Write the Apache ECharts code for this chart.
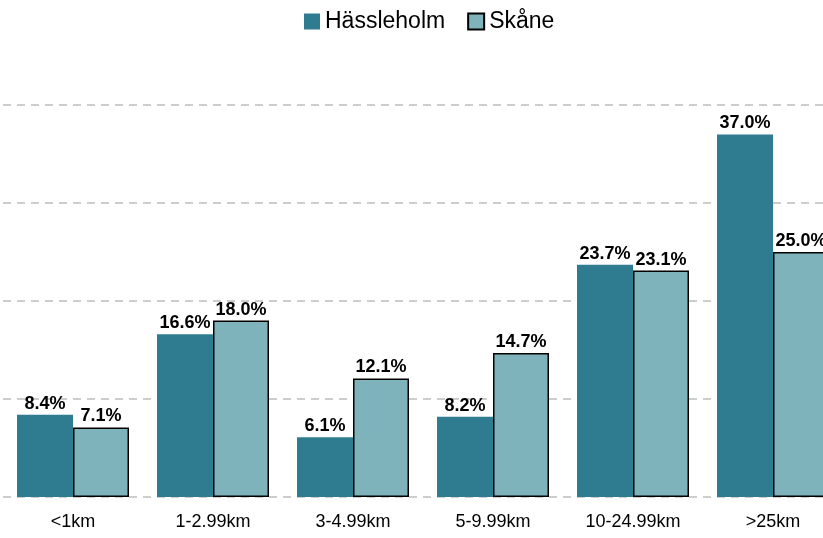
<!DOCTYPE html>
<html>
<head>
<meta charset="utf-8">
<script src="https://cdn.jsdelivr.net/npm/echarts@6/dist/echarts.min.js"></script>
<style>
  html, body { margin: 0; padding: 0; background: #fff; }
  #chart { width: 823px; height: 538px; }
</style>
</head>
<body>
<div id="chart"></div>
<script>
// data
const categories = ['<1km', '1-2.99km', '3-4.99km', '5-9.99km', '10-24.99km', '>25km'];
const hassleholm = [8.4, 16.6, 6.1, 8.2, 23.7, 37.0];
const skane = [7.1, 18.0, 12.1, 14.7, 23.1, 25.0];

const fontFamily = '"Liberation Sans", Arial, sans-serif';

const chart = echarts.init(document.getElementById('chart'));

const labelStyle = {
    show: true,
    position: 'top',
    distance: 2,
    color: '#000',
    fontWeight: 'bold',
    fontSize: 18,
    fontFamily: fontFamily,
    formatter: p => p.value.toFixed(1) + '%'
};

chart.setOption({
    animation: false,
    legend: {
        top: 5,
        left: 299,
        icon: 'rect',
        itemWidth: 16,
        itemHeight: 16,
        itemGap: 22,
        textStyle: { fontSize: 23, fontFamily: fontFamily, color: '#000' },
        data: ['Hässleholm', 'Skåne']
    },
    // plot area runs past the right edge, so the last bar is clipped
    grid: {
        left: 3, width: 840, top: 105, bottom: 41,
        containLabel: false,
        outerBoundsMode: 'none'
    },
    xAxis: {
        type: 'category',
        data: categories,
        axisLine: { show: false },
        axisTick: { show: false },
        axisLabel: { color: '#000', fontSize: 18, fontFamily: fontFamily, margin: 16 }
    },
    yAxis: {
        type: 'value',
        min: 0,
        max: 40,
        interval: 10,
        axisLabel: { show: false },
        axisLine: { show: false },
        axisTick: { show: false },
        splitLine: { lineStyle: { color: '#bdbdbd', width: 1.5, type: [8, 6] } }
    },
    series: [
        {
            name: 'Hässleholm',
            type: 'bar',
            data: hassleholm,
            barWidth: 56,
            barGap: '0%',
            itemStyle: { color: '#2f7b8f' },
            label: labelStyle
        },
        {
            name: 'Skåne',
            type: 'bar',
            data: skane,
            barWidth: 56,
            itemStyle: { color: '#7fb3bb', borderColor: '#000', borderWidth: 1.5 },
            label: labelStyle
        }
    ]
});
</script>
</body>
</html>
